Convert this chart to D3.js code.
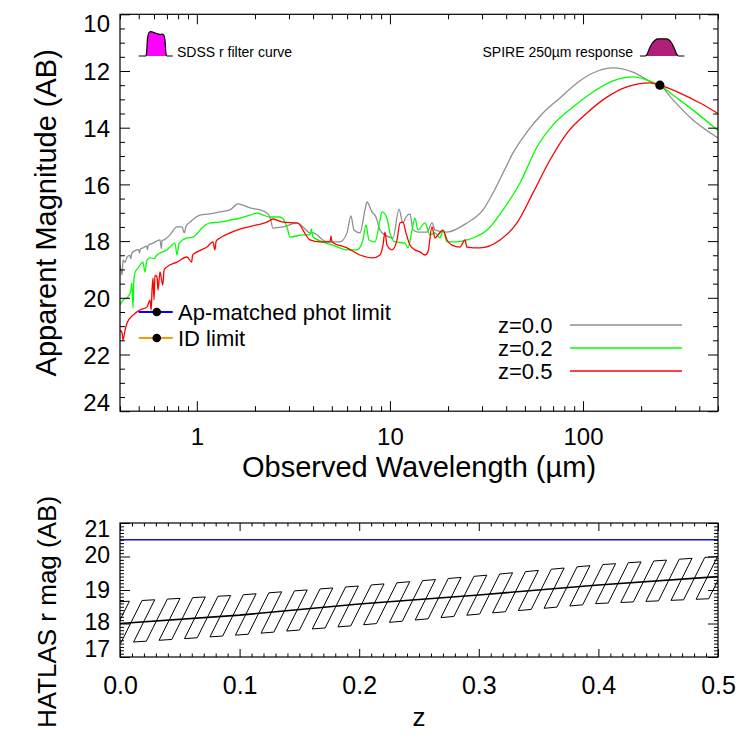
<!DOCTYPE html>
<html><head><meta charset="utf-8">
<script src="https://cdn.jsdelivr.net/npm/d3@7"></script>
<style>body{margin:0;background:#fff}svg{display:block}</style>
</head><body><svg id="c" width="747" height="747"></svg>
<script>
// ---------------- DATA ----------------
// SED tracks: [observed wavelength (micron), apparent AB magnitude]
const sedZ00 = [[0.400,18.84],[0.405,19.05],[0.41,19.19],[0.415,18.67],[0.425,18.75],[0.435,18.56],[0.45,18.50],[0.455,18.62],[0.46,18.45],[0.467,18.38],[0.50,18.30],[0.505,18.42],[0.51,18.28],[0.526,18.24],[0.55,18.18],[0.555,18.30],[0.56,18.15],[0.593,18.07],[0.644,17.96],[0.655,18.26],[0.66,17.98],[0.677,17.96],[0.726,17.78],[0.789,17.50],[0.838,17.50],[0.860,17.71],[0.880,17.47],[0.922,17.33],[1.038,17.08],[1.170,17.04],[1.318,16.97],[1.485,16.90],[1.634,16.69],[1.734,16.73],[1.885,16.83],[2.123,16.90],[2.308,17.01],[2.392,17.15],[2.480,17.54],[2.794,17.50],[3.302,17.36],[3.545,17.50],[3.854,17.71],[3.995,17.71],[4.721,18.03],[5.511,18.03],[5.992,17.71],[6.283,17.11],[6.512,17.61],[6.995,17.71],[7.426,16.90],[7.605,16.62],[8.072,16.97],[8.466,17.15],[8.880,17.61],[9.426,17.78],[10.37,17.89],[11.14,16.87],[11.68,17.36],[12.11,17.15],[12.70,17.04],[13.17,17.61],[13.98,17.68],[15.56,17.68],[16.51,17.36],[17.12,17.61],[19.75,17.68],[25.06,17.36],[30.34,16.90],[34.18,16.30],[38.51,15.60],[43.38,14.89],[51.27,14.15],[62.02,13.48],[75.98,12.95],[93.05,12.42],[112.6,12.07],[142.9,11.89],[181.4,12.04],[230.3,12.42],[250,12.50],[292.4,13.02],[371.1,13.73],[500,14.36]];
const sedZ02 = [[0.400,20.25],[0.4145,20.08],[0.440,19.97],[0.455,19.75],[0.461,19.48],[0.467,20.36],[0.472,19.37],[0.478,19.12],[0.496,18.95],[0.526,18.74],[0.538,19.09],[0.552,18.67],[0.572,18.59],[0.60,18.62],[0.622,18.49],[0.700,18.31],[0.771,18.07],[0.789,18.49],[0.81,18.07],[0.889,17.89],[0.955,17.86],[1.076,17.50],[1.170,17.36],[1.318,17.33],[1.485,17.26],[1.673,17.19],[1.885,17.08],[2.049,17.01],[2.200,17.08],[2.392,17.15],[2.696,17.15],[2.930,17.50],[3.037,17.86],[3.545,17.78],[3.854,17.78],[3.92,17.57],[3.995,17.86],[5.070,18.14],[5.992,18.31],[6.749,18.31],[7.251,17.96],[7.515,17.43],[7.788,17.96],[8.365,18.03],[8.880,17.26],[9.095,16.97],[9.654,17.19],[10.00,17.71],[10.62,18.03],[11.96,18.07],[12.40,18.24],[13.01,17.61],[13.48,17.19],[13.98,17.61],[15.19,17.36],[16.12,17.78],[17.12,17.71],[18.16,17.89],[18.83,17.61],[19.75,18.03],[22.25,18.03],[25.06,17.96],[26.92,17.89],[31.82,17.61],[38.51,16.90],[47.16,15.95],[57.74,14.68],[69.90,13.90],[88.72,13.27],[112.6,12.74],[142.9,12.35],[181.4,12.21],[230.3,12.40],[250,12.50],[292.4,12.85],[371.1,13.38],[500,14.10]];
const sedZ05 = [[0.400,21.14],[0.41,21.24],[0.4145,21.49],[0.425,21.14],[0.435,20.89],[0.467,20.61],[0.508,20.43],[0.552,20.32],[0.572,20.08],[0.58,20.43],[0.586,19.73],[0.593,19.30],[0.60,20.08],[0.607,19.20],[0.622,19.27],[0.63,19.73],[0.644,19.09],[0.666,19.55],[0.677,19.02],[0.700,18.91],[0.789,18.74],[0.889,18.56],[0.94,18.74],[0.95,18.50],[1.002,18.38],[1.128,18.21],[1.212,18.03],[1.24,18.31],[1.26,18.00],[1.318,17.89],[1.485,17.71],[1.734,17.54],[2.049,17.43],[2.308,17.33],[2.480,17.22],[2.794,17.33],[3.302,17.36],[3.421,17.43],[3.545,17.61],[3.854,17.96],[4.342,18.03],[4.893,18.03],[4.951,17.82],[5.01,18.03],[5.992,18.24],[6.995,18.49],[8.169,18.59],[8.880,18.49],[9.204,18.14],[9.426,17.68],[9.654,18.14],[10.25,18.31],[10.88,17.96],[11.27,17.36],[11.68,17.33],[12.11,17.71],[12.70,18.14],[13.48,18.31],[14.31,18.38],[15.19,18.49],[15.74,18.38],[16.51,17.50],[17.12,17.89],[17.74,17.78],[18.83,17.61],[19.75,17.96],[20.96,18.14],[23.06,18.21],[24.47,17.96],[25.06,18.21],[29.27,18.24],[37.15,17.96],[45.50,17.36],[55.06,16.30],[67.43,15.14],[82.60,14.19],[104.8,13.48],[133.0,12.92],[168.9,12.56],[222.2,12.42],[250,12.50],[317.8,12.78],[403.5,13.13],[500,13.50]];
const seriesNames = ["z=0.0","z=0.2","z=0.5"];
const seriesColors = ["#8f8f8f","#00ff00","#ff0000"];

// filter responses: [wavelength (micron), relative response]
const sdssRFilter = [[0.50,0],[0.545,0],[0.55,0.2],[0.555,0.7],[0.565,0.95],[0.575,1.0],[0.59,0.98],[0.62,0.92],[0.65,0.88],[0.66,0.9],[0.675,0.85],[0.685,0.6],[0.692,0.1],[0.70,0],[0.75,0]];
const spire250Filter = [[197,0],[210,0],[214,0.08],[220,0.4],[228,0.75],[236,0.93],[245,1],[270,1],[278,0.95],[288,0.75],[298,0.4],[306,0.1],[312,0],[335,0]];
const spireNormPoint = [250, 12.5];

// r-band limits (micron range and magnitudes)
const rBandWl = [0.5, 0.62, 0.75];
const apMatchedLimit = 20.5;
const idLimit = 21.42;

// lower panel: HATLAS r mag vs z
const zVals = [0, 0.1, 0.2, 0.3, 0.4, 0.5];
const rMagCentre = [18.0, 18.25, 18.58, 18.85, 19.15, 19.4];
const rMagHigh = [18.65, 18.85, 19.12, 19.42, 19.75, 20.0];
const rMagLow = [17.42, 17.66, 17.95, 18.28, 18.6, 18.75];

// tick values
const topYMajor = [10,12,14,16,18,20,22,24];
const topXMajor = [1,10,100];
const botXMajor = [0,0.1,0.2,0.3,0.4,0.5];
const botYMajor = [17,18,19,20,21];

// ---------------- DRAWING ----------------
const FONT = '"Liberation Sans", Arial, Helvetica, sans-serif';
const svg = d3.select("#c");
const T = {l:120, r:718, t:14.3, b:411.2};
const B = {l:120, r:718, t:523, b:657};

const x = d3.scaleLog().domain([0.4,500]).range([T.l,T.r]);
const y = d3.scaleLinear().domain([10,24]).range([T.t,T.b]);
const xb = d3.scaleLinear().domain([0,0.5]).range([B.l,B.r]);
const yb = d3.scaleLinear().domain([17,21]).range([B.b,B.t]);

const defs = svg.append("defs");
defs.append("clipPath").attr("id","clipT").append("rect").attr("x",T.l).attr("y",T.t).attr("width",T.r-T.l).attr("height",T.b-T.t);
defs.append("clipPath").attr("id","clipB").append("rect").attr("x",B.l).attr("y",B.t).attr("width",B.r-B.l).attr("height",B.b-B.t);

// ----- top panel curves
const gT = svg.append("g").attr("clip-path","url(#clipT)");
const line = d3.line().x(d=>x(d[0])).y(d=>y(d[1])).curve(d3.curveMonotoneX);
[sedZ00, sedZ02, sedZ05].forEach((s,i)=>{
  gT.append("path").attr("d",line(s)).attr("fill","none").attr("stroke",seriesColors[i]).attr("stroke-width",1.3).attr("stroke-linejoin","round");
});

// filter icons
function filterIcon(data, baseMag, heightMag, fill){
  const area = d3.area().x(d=>x(d[0])).y0(y(baseMag)).y1(d=>y(baseMag - d[1]*heightMag)).curve(d3.curveMonotoneX);
  const ln = d3.line().x(d=>x(d[0])).y(d=>y(baseMag - d[1]*heightMag)).curve(d3.curveMonotoneX);
  gT.append("path").attr("d",area(data)).attr("fill",fill).attr("stroke","none");
  gT.append("path").attr("d",ln(data)).attr("fill","none").attr("stroke","#000").attr("stroke-width",1.2);
}
filterIcon(sdssRFilter, 11.47, 0.86, "#ff00ff");
filterIcon(spire250Filter, 11.47, 0.6, "#b0207b");

svg.append("text").attr("x",177).attr("y",57).attr("font-family",FONT).attr("font-size",14).text("SDSS r filter curve");
svg.append("text").attr("x",633).attr("y",57).attr("text-anchor","end").attr("font-family",FONT).attr("font-size",14).text("SPIRE 250\u00b5m response");

// normalisation point
gT.append("circle").attr("cx",x(spireNormPoint[0])).attr("cy",y(spireNormPoint[1])).attr("r",4.6).attr("fill","#000");

// r-band limits
[[apMatchedLimit,"#0000ff","Ap-matched phot limit"],[idLimit,"#ff9900","ID limit"]].forEach(([m,c,t])=>{
  gT.append("line").attr("x1",x(rBandWl[0])).attr("x2",x(rBandWl[2])).attr("y1",y(m)).attr("y2",y(m)).attr("stroke",c).attr("stroke-width",2);
  gT.append("circle").attr("cx",x(rBandWl[1])).attr("cy",y(m)).attr("r",4.3).attr("fill","#000");
  svg.append("text").attr("x",178).attr("y",y(m)+8).attr("font-family",FONT).attr("font-size",22).text(t);
});

// series legend
seriesNames.forEach((n,i)=>{
  const yy = 325 + i*23;
  svg.append("text").attr("x",498).attr("y",yy+8).attr("font-family",FONT).attr("font-size",22).text(n);
  svg.append("line").attr("x1",570).attr("x2",682).attr("y1",yy).attr("y2",yy).attr("stroke",seriesColors[i]).attr("stroke-width",1.3);
});

// ----- axes helpers
function styleAxis(g, fs){
  g.select(".domain").remove();
  g.selectAll("line").attr("stroke","#000").attr("stroke-width",1);
  g.selectAll("text").attr("font-family",FONT).attr("font-size",fs).attr("fill","#000");
}
function range(a,b,s){const r=[];for(let v=a;v<=b+1e-9;v+=s)r.push(+v.toFixed(4));return r;}

// top panel axes
const topXMinor = [];
[0.1,1,10,100].forEach(d=>{for(let k=2;k<=9;k++){const v=d*k; if(v>=0.4&&v<=500) topXMinor.push(v);}});
const topYMinor = range(10,24,0.5).filter(v=>!topYMajor.includes(v));

svg.append("g").attr("transform",`translate(0,${T.b})`).call(d3.axisBottom(x).tickValues(topXMajor).tickSize(-10).tickPadding(17).tickFormat(d3.format("d"))).call(g=>styleAxis(g,24));
svg.append("g").attr("transform",`translate(0,${T.b})`).call(d3.axisBottom(x).tickValues(topXMinor).tickSize(-5).tickFormat("")).call(g=>styleAxis(g,24));
svg.append("g").attr("transform",`translate(0,${T.t})`).call(d3.axisTop(x).tickValues(topXMajor).tickSize(-10).tickFormat("")).call(g=>styleAxis(g,24));
svg.append("g").attr("transform",`translate(0,${T.t})`).call(d3.axisTop(x).tickValues(topXMinor).tickSize(-5).tickFormat("")).call(g=>styleAxis(g,24));
const yLeftT = svg.append("g").attr("transform",`translate(${T.l},0)`).call(d3.axisLeft(y).tickValues(topYMajor).tickSize(-10).tickPadding(10).tickFormat(d3.format("d"))).call(g=>styleAxis(g,24));
yLeftT.selectAll(".tick text").attr("dy", d=> d===10 ? "0.72em" : d===24 ? "-0.04em" : "0.36em");
svg.append("g").attr("transform",`translate(${T.l},0)`).call(d3.axisLeft(y).tickValues(topYMinor).tickSize(-5).tickFormat("")).call(g=>styleAxis(g,24));
svg.append("g").attr("transform",`translate(${T.r},0)`).call(d3.axisRight(y).tickValues(topYMajor).tickSize(-10).tickFormat("")).call(g=>styleAxis(g,24));
svg.append("g").attr("transform",`translate(${T.r},0)`).call(d3.axisRight(y).tickValues(topYMinor).tickSize(-5).tickFormat("")).call(g=>styleAxis(g,24));
svg.append("rect").attr("x",T.l).attr("y",T.t).attr("width",T.r-T.l).attr("height",T.b-T.t).attr("fill","none").attr("stroke","#000").attr("stroke-width",1.2);

svg.append("text").attr("x",(T.l+T.r)/2).attr("y",477).attr("text-anchor","middle").attr("font-family",FONT).attr("font-size",29).text("Observed Wavelength (\u00b5m)");
svg.append("text").attr("transform",`translate(56,${(T.t+T.b)/2}) rotate(-90)`).attr("text-anchor","middle").attr("font-family",FONT).attr("font-size",29).text("Apparent Magnitude (AB)");

// ----- bottom panel
const gB = svg.append("g").attr("clip-path","url(#clipB)");
function interpPx(arr, px){
  const z = xb.invert(px);
  let i = Math.floor(z/0.1); i = Math.max(0, Math.min(zVals.length-2, i));
  const f = (z - zVals[i])/(zVals[i+1]-zVals[i]);
  return yb(arr[i] + f*(arr[i+1]-arr[i]));
}
// hatch serpentine: parallel "/" lines, alternately joined along the upper and lower edges
const SLANT = 0.5, STEP = 12.3;
function crossY(arr, c){
  let yy = B.b;
  for(let k=0;k<30;k++){ const xx = c + (B.b-yy)*SLANT; yy = interpPx(arr, xx); }
  return [c + (B.b-yy)*SLANT, yy];
}
const hatchPts = [];
let idx = 0;
for(let c=40; c<=760; c+=STEP){
  const lo = crossY(rMagLow, c), hi = crossY(rMagHigh, c);
  if(idx%2===0){ hatchPts.push(lo, hi); } else { hatchPts.push(hi, lo); }
  idx++;
}
gB.append("path").attr("d", d3.line()(hatchPts)).attr("fill","none").attr("stroke","#000").attr("stroke-width",1);
const zLine = d3.line().x((d,i)=>xb(zVals[i])).y(d=>yb(d));
gB.append("path").attr("d", zLine(rMagCentre)).attr("fill","none").attr("stroke","#000").attr("stroke-width",1.6);
gB.append("line").attr("x1",B.l).attr("x2",B.r).attr("y1",yb(apMatchedLimit)).attr("y2",yb(apMatchedLimit)).attr("stroke","#1010e0").attr("stroke-width",1.3);

const botXMinor = range(0,0.5,0.01).filter(v=>!botXMajor.some(m=>Math.abs(m-v)<1e-6));
const botYMinor = range(17,21,0.1).filter(v=>!botYMajor.some(m=>Math.abs(m-v)<1e-6));
svg.append("g").attr("transform",`translate(0,${B.b})`).call(d3.axisBottom(xb).tickValues(botXMajor).tickSize(-8).tickPadding(19).tickFormat(d3.format(".1f"))).call(g=>styleAxis(g,25));
svg.append("g").attr("transform",`translate(0,${B.b})`).call(d3.axisBottom(xb).tickValues(botXMinor).tickSize(-3.5).tickFormat("")).call(g=>styleAxis(g,25));
svg.append("g").attr("transform",`translate(0,${B.t})`).call(d3.axisTop(xb).tickValues(botXMajor).tickSize(-8).tickFormat("")).call(g=>styleAxis(g,25));
svg.append("g").attr("transform",`translate(0,${B.t})`).call(d3.axisTop(xb).tickValues(botXMinor).tickSize(-3.5).tickFormat("")).call(g=>styleAxis(g,25));
const yLeftB = svg.append("g").attr("transform",`translate(${B.l},0)`).call(d3.axisLeft(yb).tickValues(botYMajor).tickSize(-10).tickPadding(10).tickFormat(d3.format("d"))).call(g=>styleAxis(g,23));
// labels kept inside the frame and apart from each other (centre offsets in px)
const botYLabelShift = {21: 5, 20: -2, 19: -1, 18: -2, 17: -9};
yLeftB.selectAll(".tick text").attr("dy","0.36em").attr("y", d=>botYLabelShift[d]||0);
svg.append("g").attr("transform",`translate(${B.l},0)`).call(d3.axisLeft(yb).tickValues(botYMinor).tickSize(-4).tickFormat("")).call(g=>styleAxis(g,24));
svg.append("g").attr("transform",`translate(${B.r},0)`).call(d3.axisRight(yb).tickValues(botYMajor).tickSize(-10).tickFormat("")).call(g=>styleAxis(g,24));
svg.append("g").attr("transform",`translate(${B.r},0)`).call(d3.axisRight(yb).tickValues(botYMinor).tickSize(-4).tickFormat("")).call(g=>styleAxis(g,24));
svg.append("rect").attr("x",B.l).attr("y",B.t).attr("width",B.r-B.l).attr("height",B.b-B.t).attr("fill","none").attr("stroke","#000").attr("stroke-width",1.2);

svg.append("text").attr("x",(B.l+B.r)/2).attr("y",726).attr("text-anchor","middle").attr("font-family",FONT).attr("font-size",26).text("z");
svg.append("text").attr("transform",`translate(56,612) rotate(-90)`).attr("text-anchor","middle").attr("font-family",FONT).attr("font-size",26).text("HATLAS r mag (AB)");
</script></body></html>
